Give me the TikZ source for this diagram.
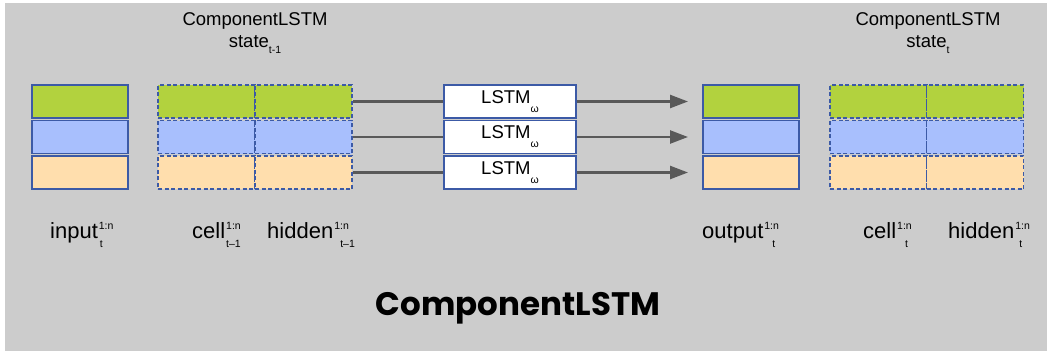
\documentclass[tikz,border=0pt]{standalone}
\usepackage{fontspec}
\setmainfont{Liberation Sans}
\newfontfamily\titlefont{Poppins}
\usetikzlibrary{arrows.meta}
\definecolor{bg}{HTML}{CCCCCC}
\definecolor{cgreen}{HTML}{B2D23E}
\definecolor{cblue}{HTML}{A8BFFD}
\definecolor{corange}{HTML}{FFDEAD}
\definecolor{cborder}{HTML}{3C5AA6}
\definecolor{cline}{HTML}{595959}
\newcommand\smallf{\fontsize{10.5}{10.5}\selectfont}
\newcommand\supsubc[3][2pt]{\kern1pt\raisebox{-9pt}{\smallf\begin{tabular}[b]{@{}l@{}}#2\\[7.5pt]\kern#1#3\end{tabular}}}
\tikzset{
  blk/.style={draw=cborder, line width=1.4pt, minimum height=33pt, inner sep=0pt},
  inbox/.style={blk, minimum width=96pt},
  halfbox/.style={blk, dash pattern=on 4pt off 2.5pt, line width=1.1pt, minimum width=97pt},
  lstmbox/.style={blk, fill=white, line width=1.1pt, minimum width=132pt, font=\fontsize{18.5}{20}\selectfont},
  conn/.style={draw=cline, line width=2.4pt},
  arr/.style={conn, -{Triangle[length=18pt,width=13pt]}},
  lbl/.style={anchor=base west, inner sep=0pt, font=\fontsize{22}{22}\selectfont},
  toplbl/.style={anchor=base, inner sep=0pt, font=\fontsize{18.5}{20}\selectfont}
}
\begin{document}
\begin{tikzpicture}[x=1pt,y=-1pt]
\useasboundingbox (0,0) rectangle (1047,351);
\fill[white] (0,0) rectangle (1047,351);
\fill[bg] (5,3) rectangle (1047,351);

% input block
\node[inbox, fill=cgreen]  (ig) at (80,101.5) {};
\node[inbox, fill=cblue]   (ib) at (80,137) {};
\node[inbox, fill=corange] (io) at (80,172.5) {};

% state t-1
\node[halfbox, fill=cgreen]  (cg) at (206.5,101.5) {};
\node[halfbox, fill=cgreen]  (hg) at (303.5,101.5) {};
\node[halfbox, fill=cblue]   (cb) at (206.5,137) {};
\node[halfbox, fill=cblue]   (hb) at (303.5,137) {};
\node[halfbox, fill=corange] (co) at (206.5,172.5) {};
\node[halfbox, fill=corange] (ho) at (303.5,172.5) {};

% LSTM boxes
\node[lstmbox] (lg) at (510,101.5) {LSTM\raisebox{-9pt}{\smallf ω}};
\node[lstmbox] (lb) at (510,137) {LSTM\raisebox{-9pt}{\smallf ω}};
\node[lstmbox] (lo) at (510,172.5) {LSTM\raisebox{-9pt}{\smallf ω}};

% output block
\node[inbox, fill=cgreen]  (og) at (751,101.5) {};
\node[inbox, fill=cblue]   (ob) at (751,137) {};
\node[inbox, fill=corange] (oo) at (751,172.5) {};

% state t
\node[halfbox, fill=cgreen]  (ncg) at (878.5,101.5) {};
\node[halfbox, fill=cgreen]  (nhg) at (975,101.5) {};
\node[halfbox, fill=cblue]   (ncb) at (878.5,137) {};
\node[halfbox, fill=cblue]   (nhb) at (975,137) {};
\node[halfbox, fill=corange] (nco) at (878.5,172.5) {};
\node[halfbox, fill=corange] (nho) at (975,172.5) {};

% connectors
\coordinate (tg) at (688,101.5);
\coordinate (tb) at (688,137);
\coordinate (to) at (688,172.5);
\draw[conn] (hg.east) -- (lg.west);
\draw[conn] (hb.east) -- (lb.west);
\draw[conn] (ho.east) -- (lo.west);
\draw[arr] (lg.east) -- (tg);
\draw[arr] (lb.east) -- (tb);
\draw[arr] (lo.east) -- (to);

% top labels
\node[toplbl] (t1a) at (255,25) {ComponentLSTM};
\node[toplbl] (t1b) at (255,47) {state\raisebox{-6pt}{\smallf t-1}};
\node[toplbl] (t2a) at (928,25) {ComponentLSTM};
\node[toplbl] (t2b) at (928,47) {state\raisebox{-6pt}{\smallf t}};

% bottom labels
\node[lbl] (l1) at (50,238) {input\supsubc[1pt]{1:n}{t}};
\node[lbl] (l2) at (192,238) {cell\supsubc[0pt]{1:n}{t–1}};
\node[lbl] (l3) at (267,238) {hidden\supsubc[6pt]{1:n}{t–1}};
\node[lbl] (l4) at (702,238) {output\supsubc[8pt]{1:n}{t}};
\node[lbl] (l5) at (863,238) {cell\supsubc[8pt]{1:n}{t}};
\node[lbl] (l6) at (948,238) {hidden\supsubc[4pt]{1:n}{t}};

% title
\node[anchor=base, inner sep=0pt, font=\titlefont\bfseries\fontsize{32.5}{33}\selectfont] (title) at (518,315) {ComponentLSTM};
\end{tikzpicture}
\end{document}
